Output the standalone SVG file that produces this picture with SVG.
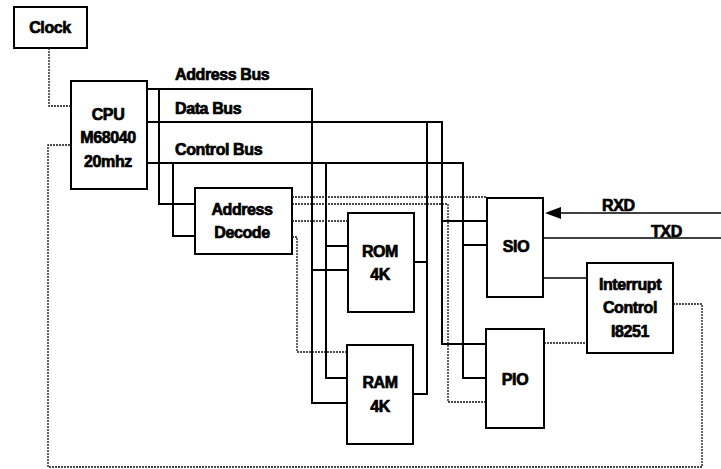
<svg xmlns="http://www.w3.org/2000/svg" width="721" height="469" viewBox="0 0 721 469">
<style>
.box{fill:#fff;stroke:#000;stroke-width:2}
.bus{fill:none;stroke:#000;stroke-width:2}
.sig{fill:none;stroke:#000;stroke-width:1.5}
.dot{fill:none;stroke:#111;stroke-width:1.3;stroke-dasharray:2 1}
text{font-family:"Liberation Sans",Arial,sans-serif;font-weight:bold;font-size:16px;fill:#000;stroke:#000;stroke-width:0.7;letter-spacing:-0.4px}
.c{text-anchor:middle}
</style>
<rect width="721" height="469" fill="#fff"/>
<g id="connectors">
  <!-- clock to CPU -->
  <polyline class="dot" points="49,48 49,106 71,106"/>
  <!-- interrupt loop -->
  <polyline class="dot" points="673,304 702,304 702,467 48,467 48,145 71,145"/>
  <!-- address bus -->
  <polyline class="bus" points="147,89 312,89 312,403 347,403"/>
  <polyline class="bus" points="312,270 348,270"/>
  <polyline class="bus" points="159,89 159,204 195,204"/>
  <!-- data bus -->
  <polyline class="bus" points="147,122 442,122 442,344 486,344"/>
  <polyline class="bus" points="427,122 427,394 413,394"/>
  <polyline class="bus" points="414,262 427,262"/>
  <polyline class="bus" points="442,221 487,221"/>
  <!-- control bus -->
  <polyline class="bus" points="147,163 463,163 463,378 486,378"/>
  <polyline class="bus" points="326,163 326,378 347,378"/>
  <polyline class="bus" points="326,246 348,246"/>
  <polyline class="bus" points="173,163 173,236 195,236"/>
  <polyline class="bus" points="463,245 487,245"/>
  <!-- address decode outputs -->
  <polyline class="dot" points="292,197 487,197"/>
  <polyline class="dot" points="292,204 448,204 448,402 486,402"/>
  <polyline class="dot" points="292,221 348,221"/>
  <polyline class="dot" points="292,237 297,237 297,352 347,352"/>
  <!-- SIO / PIO to interrupt control -->
  <polyline class="sig" points="543,278 587,278"/>
  <polyline class="dot" points="544,343 587,343"/>
  <!-- serial lines -->
  <polyline class="sig" points="721,213 558,213"/>
  <polygon points="545,213 561,207 561,219" fill="#000"/>
  <polyline class="sig" points="543,238 721,238"/>
  <!-- bus labels -->
  <text x="175" y="80">Address Bus</text>
  <text x="175" y="114">Data Bus</text>
  <text x="175" y="155">Control Bus</text>
  <text x="602" y="211">RXD</text>
  <text x="651" y="237">TXD</text>
</g>
<g id="clock">
  <rect class="box" x="14" y="7" width="73" height="41"/>
  <text class="c" x="50" y="33">Clock</text>
</g>
<g id="cpu">
  <rect class="box" x="71" y="81" width="76" height="108"/>
  <text class="c" x="108" y="120">CPU</text>
  <text class="c" x="108" y="143">M68040</text>
  <text class="c" x="108" y="167">20mhz</text>
</g>
<g id="address-decode">
  <rect class="box" x="195" y="188" width="97" height="66"/>
  <text class="c" x="242" y="215">Address</text>
  <text class="c" x="242" y="238">Decode</text>
</g>
<g id="rom">
  <rect class="box" x="348" y="213" width="66" height="99"/>
  <text class="c" x="380" y="257">ROM</text>
  <text class="c" x="380" y="280">4K</text>
</g>
<g id="ram">
  <rect class="box" x="347" y="345" width="66" height="99"/>
  <text class="c" x="380" y="388">RAM</text>
  <text class="c" x="380" y="412">4K</text>
</g>
<g id="sio">
  <rect class="box" x="487" y="198" width="56" height="99"/>
  <text class="c" x="516" y="252">SIO</text>
</g>
<g id="pio">
  <rect class="box" x="486" y="329" width="58" height="99"/>
  <text class="c" x="515" y="385">PIO</text>
</g>
<g id="interrupt-control">
  <rect class="box" x="587" y="263" width="86" height="90"/>
  <text class="c" x="630" y="290">Interrupt</text>
  <text class="c" x="630" y="313">Control</text>
  <text class="c" x="630" y="337">I8251</text>
</g>
</svg>
